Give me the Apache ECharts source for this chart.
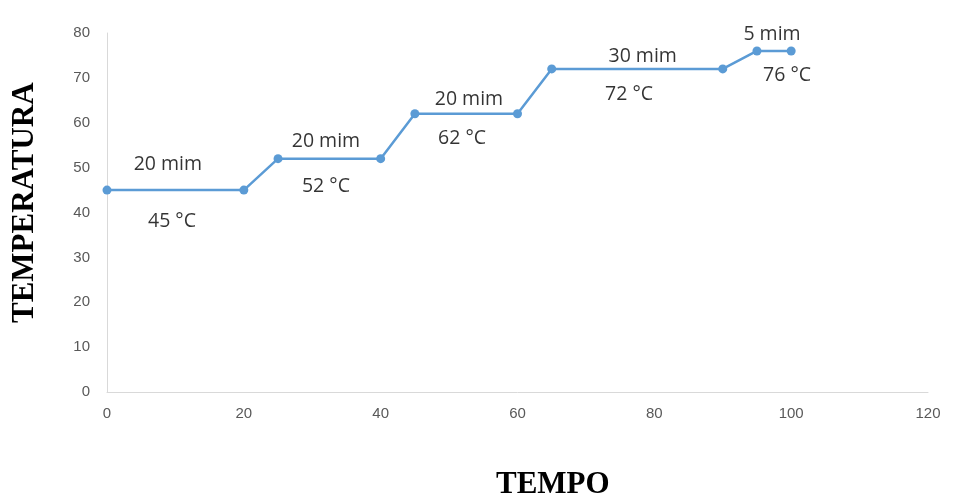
<!DOCTYPE html>
<html><head><meta charset="utf-8">
<script src="https://cdn.jsdelivr.net/npm/echarts@6/dist/echarts.min.js"></script>
<style>html,body{margin:0;padding:0;background:#fff}#c{width:954px;height:498px}</style>
</head><body><div id="c"></div>
<script>
const tempo = [0, 20, 25, 40, 45, 60, 65, 90, 95, 100];
const temperatura = [45, 45, 52, 52, 62, 62, 72, 72, 76, 76];
const noteTexts = ['20 mim', '45 °C', '20 mim', '52 °C', '20 mim', '62 °C', '30 mim', '72 °C', '5 mim', '76 °C'];
const noteX = [8.9, 9.5, 32, 32, 52.9, 51.9, 78.3, 76.3, 97.2, 99.4];
const noteY = [50.6, 37.9, 55.9, 45.7, 65.1, 56.4, 74.7, 66.2, 79.6, 70.6];

const chart = echarts.init(document.getElementById('c'));
chart.setOption({
  animation: false,
  grid: {left: 107, right: 26, top: 33, bottom: 106},
  xAxis: {
    type: 'value', min: 0, max: 120, interval: 20,
    axisLine: {show: true, lineStyle: {color: '#d9d9d9', width: 1}},
    axisTick: {show: false}, splitLine: {show: false},
    axisLabel: {color: '#595959', fontSize: 15, fontFamily: 'Liberation Sans Narrow, Liberation Sans, sans-serif', margin: 14}
  },
  yAxis: {
    type: 'value', min: 0, max: 80, interval: 10,
    axisLine: {show: true, lineStyle: {color: '#d9d9d9', width: 1}},
    axisTick: {show: false}, splitLine: {show: false},
    axisLabel: {color: '#595959', fontSize: 15, fontFamily: 'Liberation Sans, sans-serif', margin: 17}
  },
  series: [{
    type: 'line',
    data: tempo.map((t, i) => [t, temperatura[i]]),
    symbol: 'circle', symbolSize: 9,
    lineStyle: {color: '#5b9bd5', width: 2.5},
    itemStyle: {color: '#5b9bd5'}
  }, {
    type: 'scatter', symbolSize: 0, silent: true,
    data: noteX.map((x, i) => ({value: [x, noteY[i]], label: {formatter: noteTexts[i]}})),
    label: {show: true, position: 'inside', color: '#000', fontSize: 19.5, fontFamily: 'Open Sans, sans-serif'}
  }],
  graphic: [
    {type: 'text', left: 496, top: 469, style: {text: 'TEMPO', font: 'bold 31px "Liberation Serif", serif', fill: '#000'}},
    {type: 'text', rotation: Math.PI / 2, x: 9, y: 323, style: {text: 'TEMPERATURA', font: 'bold 31px "Liberation Serif", serif', fill: '#000'}}
  ]
});
</script></body></html>
